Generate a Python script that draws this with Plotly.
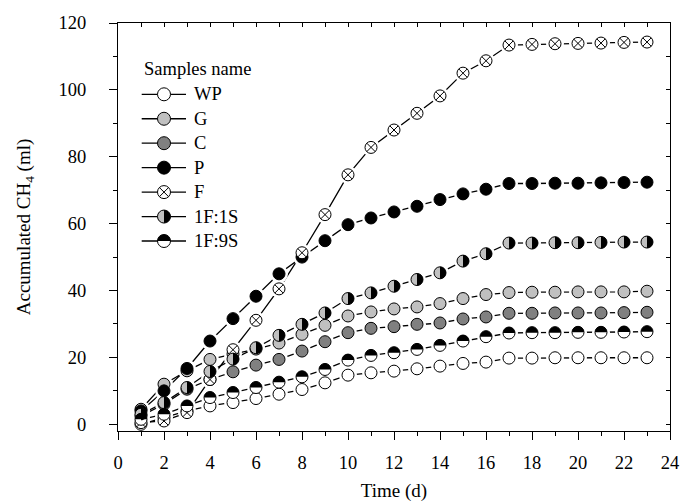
import plotly.graph_objects as go

# ---------------- data ----------------
days = list(range(1, 24))
wp = [0.0, 2.0, 4.0, 5.5, 6.5, 7.7, 9.0, 10.4, 12.4, 14.7, 15.4, 15.9, 16.6, 17.4, 18.2, 18.6,
      19.8, 19.8, 19.9, 19.9, 19.9, 19.9, 19.9]
g = [4.5, 12.0, 16.0, 19.4, 21.0, 22.5, 24.3, 26.9, 29.6, 32.4, 33.6, 34.5, 35.1, 36.1, 37.6, 38.8,
     39.4, 39.5, 39.5, 39.6, 39.6, 39.6, 39.8]
c = [2.5, 6.0, 10.5, 13.4, 15.7, 17.7, 19.4, 21.9, 24.7, 27.4, 28.7, 29.2, 29.9, 30.3, 31.5, 32.1,
     33.2, 33.2, 33.3, 33.3, 33.3, 33.4, 33.5]
p = [4.0, 10.0, 16.7, 24.9, 31.6, 38.3, 45.0, 50.0, 54.9, 59.7, 61.7, 63.5, 65.2, 67.2, 68.9, 70.3,
     72.0, 72.0, 72.1, 72.1, 72.2, 72.3, 72.4]
f = [0.5, 1.0, 3.5, 13.4, 22.3, 31.1, 40.5, 51.3, 62.7, 74.6, 82.8, 88.0, 93.0, 98.2, 105.0, 108.7,
     113.4, 113.6, 113.8, 113.9, 114.0, 114.2, 114.3]
f1s1 = [3.0, 6.5, 11.0, 15.8, 19.5, 22.9, 26.6, 29.9, 33.3, 37.6, 39.3, 41.3, 43.3, 45.3, 48.8, 51.0,
        54.2, 54.2, 54.3, 54.3, 54.4, 54.5, 54.5]
f1s9 = [1.5, 3.0, 5.5, 8.0, 9.5, 11.0, 12.6, 14.2, 16.4, 19.2, 20.6, 21.4, 22.4, 23.6, 24.9, 26.2,
        27.3, 27.4, 27.4, 27.5, 27.5, 27.6, 27.7]

names = ["WP", "G", "C", "P", "F", "1F:1S", "1F:9S"]
values = [wp, g, c, p, f, f1s1, f1s9]
symbols = ["circle", "circle", "circle", "circle", "circle-x", "circle", "circle"]
fills = ["white", "#c0c0c0", "#808080", "black", "white", "#c0c0c0", "white"]
halves = [None, None, None, None, None, "right", "top"]

FONT = "Liberation Serif"
MS = 12

fig = go.Figure()

# lines
for nm, v in zip(names, values):
    fig.add_trace(go.Scatter(x=days, y=v, mode="lines", line=dict(color="black", width=1.3),
                             showlegend=False, hoverinfo="skip"))
# white halos (gap to symbol)
for nm, v in zip(names, values):
    fig.add_trace(go.Scatter(x=days, y=v, mode="markers",
                             marker=dict(size=MS + 6, color="white", line=dict(width=0)),
                             showlegend=False, hoverinfo="skip"))
# markers
for nm, v, s, fc in zip(names, values, symbols, fills):
    fig.add_trace(go.Scatter(x=days, y=v, mode="markers", name=nm,
                             marker=dict(size=MS, symbol=s, color=fc,
                                         line=dict(color="black", width=1)),
                             showlegend=False))


def half_path(kind, r):
    k = 0.5523 * r
    if kind == "right":
        return f"M 0,{-r} C {k:.2f},{-r} {r},{-k:.2f} {r},0 C {r},{k:.2f} {k:.2f},{r} 0,{r} Z"
    return f"M {-r},0 C {-r},{k:.2f} {-k:.2f},{r} 0,{r} C {k:.2f},{r} {r},{k:.2f} {r},0 Z"


shapes = []
for v, h in zip(values, halves):
    if h is None:
        continue
    for d, val in zip(days, v):
        shapes.append(dict(type="path", xref="x", yref="y", xsizemode="pixel", ysizemode="pixel",
                           xanchor=d, yanchor=val, path=half_path(h, MS / 2),
                           fillcolor="black", line=dict(width=0), layer="above"))

# ---------------- custom legend (page-pixel overlay axes) ----------------
leg_y0 = 94.3
leg_dy = 24.45
leg_x_line = [141.7, 186.0]
leg_x_mark = 164.0
leg_x_text = 191.7
LMS = 13
annotations = [dict(xref="x3", yref="y3", x=leg_x_line[0], y=69.3, text="Samples name",
                    showarrow=False, xanchor="left", yanchor="middle",
                    font=dict(family=FONT, size=18.5, color="black"))]
for i, (nm, s, fc, h) in enumerate(zip(names, symbols, fills, halves)):
    yy = leg_y0 + i * leg_dy
    fig.add_trace(go.Scatter(x=leg_x_line, y=[yy, yy], mode="lines", xaxis="x3", yaxis="y3",
                             line=dict(color="black", width=1.3), showlegend=False, hoverinfo="skip"))
    fig.add_trace(go.Scatter(x=[leg_x_mark], y=[yy], mode="markers", xaxis="x3", yaxis="y3",
                             marker=dict(size=LMS, symbol=s, color=fc, line=dict(color="black", width=1)),
                             showlegend=False, hoverinfo="skip"))
    if h is not None:
        shapes.append(dict(type="path", xref="x3", yref="y3", xsizemode="pixel", ysizemode="pixel",
                           xanchor=leg_x_mark, yanchor=yy, path=half_path(h, LMS / 2),
                           fillcolor="black", line=dict(width=0), layer="above"))
    annotations.append(dict(xref="x3", yref="y3", x=leg_x_text, y=yy, text=nm, showarrow=False,
                            xanchor="left", yanchor="middle",
                            font=dict(family=FONT, size=18.5, color="black")))

# dummy trace for mirrored tick axes
fig.add_trace(go.Scatter(x=[None], y=[None], xaxis="x2", yaxis="y2", showlegend=False, hoverinfo="skip"))

tickfont = dict(family=FONT, size=18.5, color="black")
fig.update_layout(
    width=686, height=502,
    margin=dict(l=118, r=16, t=23, b=71, autoexpand=False),
    paper_bgcolor="white", plot_bgcolor="white",
    font=dict(family=FONT, color="black"),
    showlegend=False,
    xaxis=dict(range=[0, 24], tick0=0, dtick=2, ticks="outside", ticklen=8, tickwidth=1.2,
               tickcolor="black", showline=True, linecolor="black", linewidth=1.3, mirror=True,
               showgrid=False, zeroline=False, tickfont=tickfont, ticklabelstandoff=7,
               automargin=False,
               minor=dict(dtick=1, tick0=0, ticks="outside", ticklen=4, tickwidth=1.2, tickcolor="black",
                          showgrid=False),
               title=dict(text="Time (d)", font=dict(family=FONT, size=19, color="black"), standoff=15)),
    yaxis=dict(range=[-2, 120], tick0=0, dtick=20, ticks="outside", ticklen=8, tickwidth=1.2,
               tickcolor="black", showline=True, linecolor="black", linewidth=1.3, mirror=True,
               showgrid=False, zeroline=False, tickfont=tickfont, ticklabelstandoff=19,
               automargin=False,
               minor=dict(dtick=10, tick0=0, ticks="outside", ticklen=4, tickwidth=1.2, tickcolor="black",
                          showgrid=False),
               title=dict(text="Accumulated CH<sub>4</sub> (ml)",
                          font=dict(family=FONT, size=19, color="black"), standoff=22)),
    xaxis2=dict(overlaying="x", side="top", anchor="y", range=[0, 24], tick0=0, dtick=1,
                ticks="inside", ticklen=4, tickwidth=1.2, tickcolor="black", showticklabels=False,
                showline=False, showgrid=False, zeroline=False),
    yaxis2=dict(overlaying="y", side="right", anchor="x", range=[-2, 120], tick0=0, dtick=10,
                ticks="inside", ticklen=4, tickwidth=1.2, tickcolor="black", showticklabels=False,
                showline=False, showgrid=False, zeroline=False),
    xaxis3=dict(overlaying="x", anchor="y3", range=[118, 670], visible=False, fixedrange=True),
    yaxis3=dict(overlaying="y", anchor="x3", range=[431, 23], visible=False, fixedrange=True),
    shapes=shapes,
    annotations=annotations,
)

fig.write_html("out.html")
